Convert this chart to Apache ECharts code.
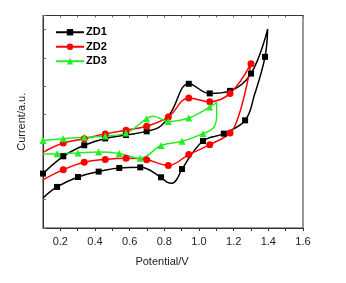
<!DOCTYPE html>
<html>
<head>
<meta charset="utf-8">
<script src="https://cdn.jsdelivr.net/npm/echarts@6/dist/echarts.min.js"></script>
<style>
  html, body { margin: 0; padding: 0; background: #fff; }
  #chart { width: 346px; height: 283px; }
</style>
</head>
<body>
<div id="chart"></div>
<script>
  // potential (V) / current (a.u.), one closed CV loop per sample
  // mark = 1 where the original plot shows a symbol
  const zd1Pot = [0.1, 0.181, 0.302, 0.421, 0.540, 0.661, 0.781, 0.815, 0.845, 0.872, 0.902, 1.023, 1.143, 1.266, 1.32, 1.381, 1.396,
    1.300, 1.179, 1.062, 0.941, 0.84, 0.78, 0.698, 0.579, 0.459, 0.338, 0.217, 0.1]
  const zd1Cur = [1.06, 1.45, 1.80, 1.99, 2.12, 2.14, 1.79, 1.62, 1.58, 1.72, 2.08, 3.07, 3.33, 3.80, 4.70, 6.04, 7.02,
    5.45, 4.84, 4.75, 5.09, 4.10, 3.60, 3.41, 3.28, 3.16, 2.92, 2.53, 1.92]
  const zd1Mark = [0, 1, 1, 1, 1, 1, 1, 0, 0, 0, 1, 1, 1, 1, 0, 1, 0,
    1, 1, 1, 1, 0, 0, 1, 1, 1, 1, 1, 1]

  const zd2Pot = [0.1, 0.217, 0.338, 0.459, 0.579, 0.698, 0.823, 0.941, 1.062, 1.179, 1.300,
    1.265, 1.221, 1.179, 1.062, 0.941, 0.823, 0.698, 0.579, 0.459, 0.338, 0.217, 0.1]
  const zd2Cur = [2.67, 3.00, 3.15, 3.32, 3.45, 3.59, 3.92, 4.59, 4.46, 4.75, 5.80,
    4.76, 3.82, 3.35, 2.94, 2.59, 2.21, 2.41, 2.46, 2.42, 2.32, 2.06, 1.70]
  const zd2Mark = [0, 1, 1, 1, 1, 1, 1, 1, 1, 1, 1,
    0, 0, 1, 1, 1, 1, 1, 1, 1, 1, 1, 0]

  const zd3Pot = [0.1, 0.181, 0.302, 0.421, 0.540, 0.660, 0.781, 0.902, 1.023, 1.082, 1.102, 1.102,
    1.062, 0.941, 0.823, 0.737, 0.698, 0.579, 0.459, 0.338, 0.217, 0.1]
  const zd3Cur = [2.61, 2.62, 2.65, 2.68, 2.63, 2.46, 2.91, 3.06, 3.33, 3.53, 3.94, 4.43,
    4.27, 3.88, 3.76, 3.94, 3.86, 3.35, 3.25, 3.20, 3.15, 3.09]
  const zd3Mark = [0, 1, 1, 1, 1, 1, 1, 1, 1, 0, 0, 0,
    1, 1, 1, 0, 1, 1, 1, 1, 1, 1]

  function points(pot, cur, mark) {
    return pot.map((p, i) => mark[i] ? [p, cur[i]] : { value: [p, cur[i]], symbol: 'none' })
  }

  function loop(name, color, symbol, size, pot, cur, mark) {
    return {
      name: name,
      type: 'line',
      smooth: 0.4,
      clip: true,
      symbol: symbol,
      symbolSize: size,
      color: color,
      lineStyle: { width: 1.5, color: color },
      itemStyle: { color: color },
      data: points(pot, cur, mark),
      animation: false
    }
  }

  const chart = echarts.init(document.getElementById('chart'))
  chart.setOption({
    backgroundColor: '#fff',
    grid: {
      left: 43, right: 43, top: 15.5, bottom: 55,
      show: true, borderColor: '#333', borderWidth: 1
    },
    legend: {
      orient: 'vertical',
      left: 50, top: 21,
      itemWidth: 28, itemHeight: 8, itemGap: 2,
      textStyle: { fontFamily: 'Arial, "Liberation Sans"', fontWeight: 'bold', fontSize: 11, color: '#000', lineHeight: 12.5, padding: [0, 0, 0, -3] },
      data: ['ZD1', 'ZD2', 'ZD3']
    },
    xAxis: [{
      type: 'value',
      min: 0.1, max: 1.6, interval: 0.1,
      name: 'Potential/V',
      nameLocation: 'middle',
      nameGap: 28,
      nameTextStyle: { fontFamily: 'Arial, "Liberation Sans"', fontSize: 11, color: '#222', padding: [0, 22, 0, 0] },
      axisLine: { lineStyle: { color: '#333' } },
      axisTick: { inside: false, length: 3, lineStyle: { color: '#333' } },
      axisLabel: {
        margin: 8,
        fontFamily: 'Arial, "Liberation Sans"', fontSize: 11, color: '#222',
        showMinLabel: false,
        formatter: v => Math.round(v * 10) % 2 === 0 ? v.toFixed(1) : ''
      },
      splitLine: { show: false }
    }, {
      type: 'value', position: 'top',
      min: 0.1, max: 1.6, interval: 0.1,
      axisLine: { lineStyle: { color: '#333' } },
      axisTick: { inside: true, length: 2, lineStyle: { color: '#666' } },
      axisLabel: { show: false },
      splitLine: { show: false }
    }],
    yAxis: {
      type: 'value',
      min: 0, max: 7.5, interval: 1,
      name: 'Current/a.u.',
      nameLocation: 'middle',
      nameGap: 16,
      nameTextStyle: { fontFamily: 'Arial, "Liberation Sans"', fontSize: 11, color: '#222' },
      axisLine: { show: true, lineStyle: { color: '#333' } },
      axisTick: { show: true, inside: true, length: 3, lineStyle: { color: '#666' } },
      axisLabel: { show: false },
      splitLine: { show: false }
    },
    series: [
      loop('ZD1', '#000000', 'rect', 6, zd1Pot, zd1Cur, zd1Mark),
      loop('ZD2', '#ff0000', 'circle', 7, zd2Pot, zd2Cur, zd2Mark),
      loop('ZD3', '#22ee22', 'triangle', 7, zd3Pot, zd3Cur, zd3Mark)
    ]
  })
</script>
</body>
</html>
